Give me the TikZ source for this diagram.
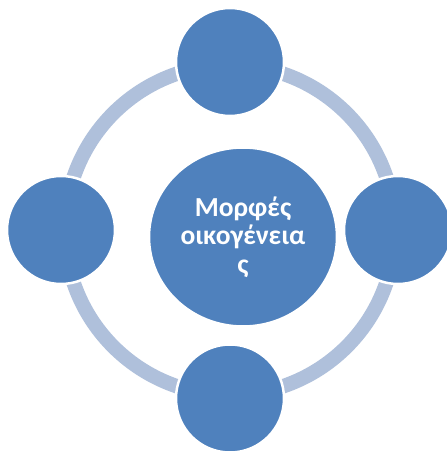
\documentclass[tikz,border=0pt]{standalone}
\usepackage{fontspec}
\setmainfont{Carlito}
\usetikzlibrary{shapes.geometric}
\definecolor{nodeblue}{HTML}{4F81BD}
\definecolor{ringblue}{HTML}{AFC0DB}
\tikzset{
  smallcirc/.style={circle, fill=nodeblue, draw=white, line width=2.5pt, minimum size=108pt, inner sep=0pt},
  bigcirc/.style={ellipse, fill=nodeblue, draw=white, line width=2.5pt, minimum width=188pt, minimum height=179pt, inner sep=0pt,
    text=white, font=\bfseries\fontsize{27.5}{28.5}\selectfont, align=center},
  ring/.style={draw=ringblue, line width=14.5pt}
}
\begin{document}
\begin{tikzpicture}[x=1pt,y=1pt]
\useasboundingbox (0,0) rectangle (447,453);
\coordinate (rc) at (230,223);
\draw[ring] (rc) circle[radius=165];
\node[smallcirc] (top) at (230,391) {};
\node[smallcirc] (left) at (61,223) {};
\node[smallcirc] (right) at (398,223) {};
\node[smallcirc] (bottom) at (230,54.5) {};
\node[bigcirc] (center) at (243,216) {Μορφές\\οικογένεια\\ς};
\end{tikzpicture}
\end{document}
